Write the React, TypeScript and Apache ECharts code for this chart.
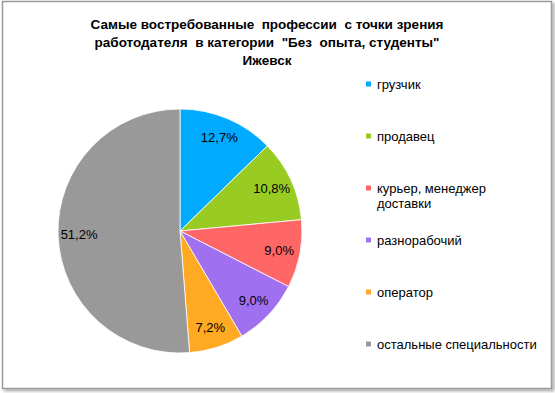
import React, { useEffect, useRef } from "react";
import * as echarts from "echarts";

const categories = [
  "грузчик",
  "продавец",
  "курьер, менеджер доставки",
  "разнорабочий",
  "оператор",
  "остальные специальности",
];
const values = [12.7, 10.8, 9.0, 9.0, 7.2, 51.2];
const colors = ["#00AAFF", "#99CC22", "#FF6666", "#A070F0", "#FFAA22", "#999999"];
const titleLines = [
  "Самые востребованные  профессии  с точки зрения",
  "работодателя  в категории  \"Без  опыта, студенты\"",
  "Ижевск",
];

const FONT = "'Liberation Sans', Arial, sans-serif";

export default function App() {
  const ref = useRef<HTMLDivElement>(null);
  useEffect(() => {
    if (!ref.current) return;
    const chart = echarts.init(ref.current, undefined, { renderer: "svg" });
    const data = categories.map((name, i) => ({
      name,
      value: values[i],
      itemStyle: { color: colors[i] },
    }));
    const legends = categories.map((name, i) => {
      const multi = name === "курьер, менеджер доставки";
      const y = 84 + i * 52;
      return {
        show: true,
        data: [{ name, icon: "rect", itemStyle: { color: colors[i] } }],
        left: 364,
        top: multi ? y - 22.5 : y - 7.5,
        padding: 0,
        itemWidth: 7,
        itemHeight: 7,
        itemGap: 0,
        selectedMode: false,
        formatter: (n: string) =>
          n === "курьер, менеджер доставки" ? " \nкурьер, менеджер\nдоставки" : n,
        textStyle: {
          fontFamily: FONT,
          fontSize: 13,
          color: "#000",
          lineHeight: 15,
        },
      };
    });
    chart.setOption({
      animation: false,
      backgroundColor: "#fff",
      title: {
        text: titleLines.join("\n"),
        left: 262,
        top: 10,
        textAlign: "center",
        textStyle: {
          fontFamily: FONT,
          fontSize: 13.5,
          fontWeight: "bold",
          color: "#000",
          lineHeight: 18,
        },
      },
      legend: legends,
      graphic: [
        {
          type: "rect",
          z: -10,
          shape: { x: 2.5, y: 1.5, width: 549, height: 387 },
          style: {
            fill: "#fff",
            stroke: "#9a9a9a",
            lineWidth: 1.5,
            shadowBlur: 3,
            shadowOffsetX: 2,
            shadowOffsetY: 2,
            shadowColor: "rgba(0,0,0,0.35)",
          },
        },
      ],
      series: [
        {
          type: "pie",
          center: [180, 231],
          radius: [0, 122],
          startAngle: 90,
          clockwise: true,
          silent: true,
          label: { show: false },
          labelLine: { show: false },
          itemStyle: { borderColor: "#fff", borderWidth: 0.8 },
          data,
        },
        {
          type: "pie",
          center: [180, 231],
          radius: [74, 122],
          startAngle: 90,
          clockwise: true,
          silent: true,
          itemStyle: { color: "rgba(0,0,0,0)" },
          labelLine: { show: false },
          label: {
            show: true,
            position: "inside",
            fontFamily: FONT,
            fontSize: 13,
            color: "#000",
            formatter: (p: any) => p.value.toFixed(1).replace(".", ",") + "%",
          },
          data: categories.map((name, i) => ({ name, value: values[i] })),
        },
      ],
    });
    return () => chart.dispose();
  }, []);
  return (
    <div
      ref={ref}
      style={{ position: "fixed", left: 0, top: 0, width: 555, height: 393, background: "#fff" }}
    />
  );
}
